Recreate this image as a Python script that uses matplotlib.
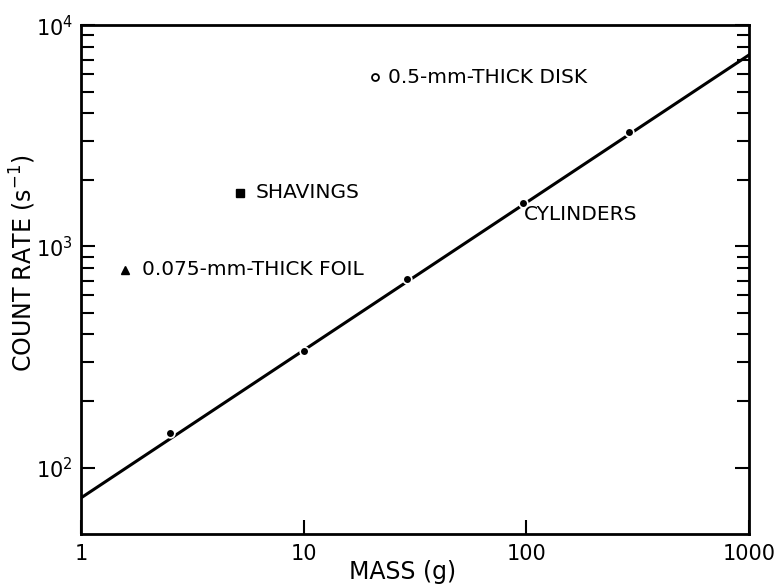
import matplotlib
matplotlib.use('Agg')
import matplotlib.pyplot as plt
from matplotlib.ticker import NullFormatter, FixedLocator
import numpy as np

# cylinders (measured)
cyl_mass = [2.5, 10, 29, 97, 290]
cyl_rate = [144, 337, 713, 1570, 3290]

# fitted line end points
fit_mass = [1, 1000]
fit_rate = [73, 7330]

# other samples
shav_mass, shav_rate = [5.2], [1745]
foil_mass, foil_rate = [1.58], [783]
disk_mass, disk_rate = [20.9], [5820]

x_ticks = [1, 10, 100, 1000]
x_labels = ['1', '10', '100', '1000']
y_ticks = [100, 1000, 10000]
y_labels = ['10$^2$', '10$^3$', '10$^4$']
y_minor = [m * d for d in (100, 1000) for m in range(2, 10)]

plt.rcParams['font.family'] = 'DejaVu Sans'

fig = plt.figure(figsize=(7.8, 5.87), dpi=100)
ax = fig.add_axes([0.104, 0.090, 0.856, 0.867])
ax.set_xscale('log')
ax.set_yscale('log')
ax.set_xlim(1, 1000)
ax.set_ylim(50, 10000)

ax.plot(fit_mass, fit_rate, color='black', lw=2.2, zorder=2)
ax.plot(cyl_mass, cyl_rate, 'o', color='black', ms=5, mec='white', mew=2.5, zorder=3)
ax.plot(cyl_mass, cyl_rate, 'o', color='black', ms=5, mew=0, zorder=4)
ax.plot(shav_mass, shav_rate, 's', color='black', ms=6)
ax.plot(foil_mass, foil_rate, '^', color='black', ms=6)
ax.plot(disk_mass, disk_rate, 'o', mfc='white', mec='black', ms=5, mew=1.3)

ax.text(6.1, shav_rate[0], 'SHAVINGS', fontsize=14.5, va='center')
ax.text(1.88, foil_rate[0], '0.075-mm-THICK FOIL', fontsize=14.5, va='center')
ax.text(23.9, disk_rate[0], '0.5-mm-THICK DISK', fontsize=14.5, va='center')
ax.text(98, 1390, 'CYLINDERS', fontsize=14.5, va='center')

ax.xaxis.set_major_locator(FixedLocator(x_ticks))
ax.set_xticklabels(x_labels, fontsize=15)
ax.xaxis.set_minor_locator(FixedLocator([]))
ax.yaxis.set_major_locator(FixedLocator(y_ticks))
ax.set_yticklabels(y_labels, fontsize=15)
ax.yaxis.set_minor_locator(FixedLocator(y_minor))
ax.yaxis.set_minor_formatter(NullFormatter())

ax.tick_params(axis='x', which='major', direction='in', length=10, width=1.5, top=False, pad=7)
ax.tick_params(axis='y', which='major', direction='in', length=10, width=1.5, right=True, pad=6)
ax.tick_params(axis='y', which='minor', direction='in', length=9, width=1.5, right=True)
for s in ax.spines.values():
    s.set_linewidth(2)

ax.set_xlabel('MASS (g)', fontsize=17)
ax.xaxis.set_label_coords(0.482, -0.075)
ax.set_ylabel('COUNT RATE (s$^{-1}$)', fontsize=17)
ax.yaxis.set_label_coords(-0.087, 0.533)
ax.yaxis.label.set_va('center')
ax.xaxis.label.set_va('center')

plt.savefig('out.png', dpi=100)
plt.close()
